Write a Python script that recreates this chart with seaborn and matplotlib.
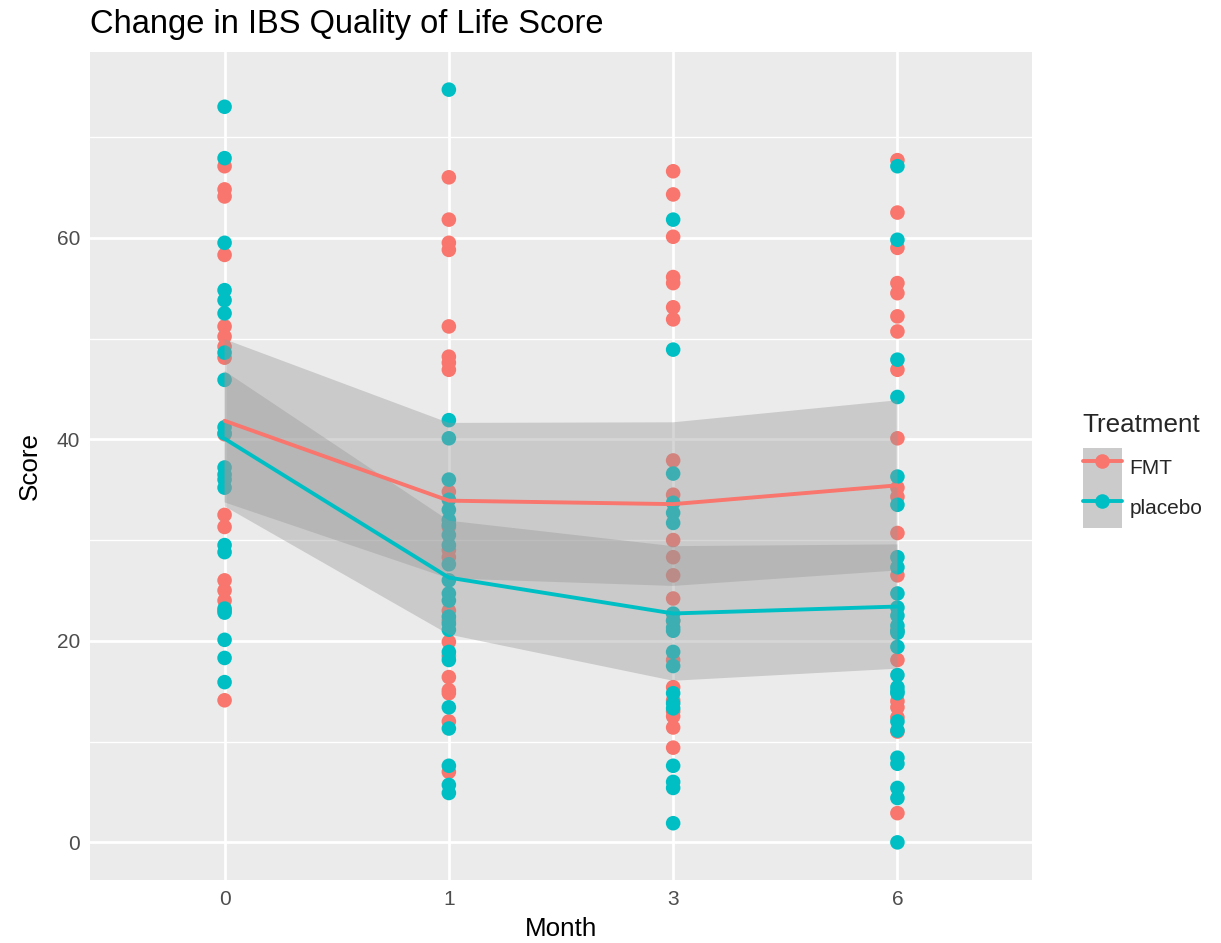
import numpy as np
import pandas as pd
import matplotlib
matplotlib.use("Agg")
import matplotlib.pyplot as plt
from matplotlib.ticker import MultipleLocator
from matplotlib.lines import Line2D
from matplotlib.patches import Patch
from matplotlib.collections import PolyCollection
import seaborn as sns

# IBS quality of life scores per patient, by month and treatment arm
months = ["0", "1", "3", "6"]
treatments = ["FMT", "placebo"]
colors = ["#F8766D", "#00BFC4"]

fmt_m0 = [67.1, 64.8, 64.1, 58.3, 51.2, 50.2, 49.2, 48.1, 40.5, 32.5, 31.3,
          26.0, 25.0, 24.0, 23.0, 14.1]
fmt_m1 = [66.0, 61.8, 59.5, 58.8, 51.2, 48.2, 47.6, 46.9, 34.8, 31.3, 29.0,
          28.3, 23.0, 22.0, 19.9, 18.5, 16.4, 15.1, 14.8, 12.0, 7.0]
fmt_m3 = [66.6, 64.3, 60.1, 56.1, 55.5, 53.1, 51.9, 37.9, 34.5, 30.0, 28.3,
          26.5, 24.2, 22.0, 18.1, 15.4, 14.1, 13.0, 12.5, 11.4, 9.4]
fmt_m6 = [67.7, 62.5, 59.0, 55.5, 54.5, 52.2, 50.7, 46.9, 40.1, 35.2, 34.3,
          30.7, 26.5, 21.0, 18.1, 14.0, 13.4, 12.4, 11.0, 2.9]

pla_m0 = [73.0, 67.9, 59.5, 54.8, 53.8, 52.5, 48.6, 45.9, 41.2, 40.6, 37.2,
          36.5, 36.0, 35.2, 29.5, 28.8, 23.2, 22.8, 20.1, 18.3, 15.9]
pla_m1 = [74.7, 41.9, 40.1, 36.0, 34.0, 33.0, 32.0, 31.5, 30.5, 29.5, 27.6,
          26.0, 24.7, 24.0, 22.4, 21.7, 21.1, 18.9, 18.1, 13.4, 11.3, 7.6,
          5.7, 4.9]
pla_m3 = [61.8, 48.9, 36.6, 33.7, 32.7, 31.7, 22.7, 22.0, 21.3, 21.0, 18.9,
          17.5, 14.8, 13.8, 13.3, 7.6, 6.0, 5.4, 1.9]
pla_m6 = [67.1, 59.8, 47.9, 44.2, 36.3, 33.5, 28.3, 27.3, 24.7, 23.3, 22.5,
          21.5, 21.0, 20.8, 19.4, 16.6, 15.4, 15.0, 14.8, 12.0, 11.1, 8.4,
          7.8, 5.4, 4.4, 0.0]

scores = {
    "FMT": [fmt_m0, fmt_m1, fmt_m3, fmt_m6],
    "placebo": [pla_m0, pla_m1, pla_m3, pla_m6],
}

rows = []
for trt in treatments:
    for m, vals in zip(months, scores[trt]):
        for v in vals:
            rows.append({"Month": m, "Score": v, "Treatment": trt})
df = pd.DataFrame(rows)

W, H, DPI = 1221, 943, 100
sns.set_theme(style="darkgrid", rc={
    "axes.facecolor": "#EBEBEB",
    "grid.color": "white",
    "axes.edgecolor": "none",
})
plt.rcParams["font.family"] = ["Liberation Sans", "DejaVu Sans"]

fig = plt.figure(figsize=(W / DPI, H / DPI), dpi=DPI)
fig.patch.set_facecolor("white")
ax = fig.add_axes([90 / W, 1 - 880 / H, (1032 - 90) / W, (880 - 52) / H])

# individual scores
sns.stripplot(data=df, x="Month", y="Score", hue="Treatment", order=months,
              hue_order=treatments, palette=colors, jitter=False, dodge=False,
              size=10.5, linewidth=0, legend=False, ax=ax, zorder=1)

# group means with a confidence band
sns.lineplot(data=df, x="Month", y="Score", hue="Treatment",
             hue_order=treatments, palette=colors, errorbar=("se", 1.9),
             err_kws={"alpha": 0.4}, lw=2.8, legend=False, ax=ax)

for coll in ax.collections:
    if isinstance(coll, PolyCollection):
        coll.set_facecolor("#999999")
        coll.set_alpha(0.4)
        coll.set_edgecolor("none")
        coll.set_zorder(1.5)
for ln in ax.lines:
    ln.set_zorder(3)

ymin, ymax = df["Score"].min(), df["Score"].max()
pad = 0.05 * (ymax - ymin)
ax.set_ylim(ymin - pad, ymax + pad)
ax.set_xlim(-0.6, 3.6)

ax.yaxis.set_major_locator(MultipleLocator(20))
ax.yaxis.set_minor_locator(MultipleLocator(10))
ax.grid(which="major", color="white", lw=2.0)
ax.grid(which="minor", axis="y", color="white", lw=1.0)
ax.tick_params(axis="both", which="major", length=4, width=1.2,
               color="#333333", labelsize=15, labelcolor="#4D4D4D", pad=3)
ax.tick_params(axis="y", which="minor", length=0)
ax.tick_params(axis="x", which="minor", length=0)
ax.set_xticks(range(len(months)))
ax.set_xticklabels(months)

ax.set_xlabel("")
ax.set_ylabel("")
fig.text(561 / W, 1 - 929 / H, "Month", ha="center", va="center",
         fontsize=18.75, color="black")
fig.text(30 / W, 1 - 466 / H, "Score", ha="center", va="center",
         rotation=90, fontsize=18.75, color="black")
fig.text(90 / W, 1 - 24 / H, "Change in IBS Quality of Life Score",
         ha="left", va="center", fontsize=23.5, color="black")

handles = [
    (Patch(facecolor="#CBCBCB", edgecolor="none"),
     Line2D([], [], color=c, lw=2.8, marker="o", markersize=10.5,
            markeredgewidth=0))
    for c in colors
]
leg = fig.legend(handles, treatments, title="Treatment",
                 loc="upper left", bbox_to_anchor=(1068 / W, 1 - 398 / H),
                 frameon=False, fontsize=15, title_fontsize=18.75,
                 handlelength=1.9, handleheight=2.6, labelspacing=0.0,
                 handletextpad=0.35, borderpad=0.2, alignment="left")
# small gap between the legend title and its keys
leg._legend_box.sep = 8

fig.savefig("out.png", dpi=DPI, facecolor="white")
